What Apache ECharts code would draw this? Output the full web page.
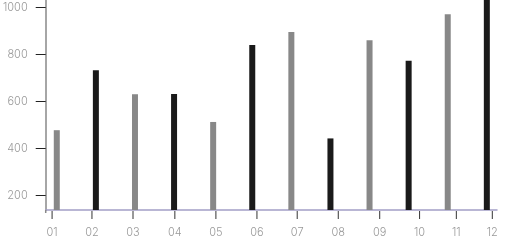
<!DOCTYPE html>
<html>
<head>
<meta charset="utf-8">
<script src="https://cdn.jsdelivr.net/npm/echarts@6/dist/echarts.min.js"></script>
<style>
html,body{margin:0;padding:0;background:#fff;}
#chart{width:508px;height:242px;}
</style>
</head>
<body>
<div id="chart"></div>
<script>
// Data
var categories = ['01','02','03','04','05','06','07','08','09','10','11','12'];
var values = [477, 732, 630, 631, 512, 840, 895, 442, 860, 772, 970, 1035];
// x tick marks (in bar-index units) and their labels
var tickValues = [-0.12, 0.9, 1.95, 3.02, 4.07, 5.12, 6.15, 7.2, 8.26, 9.28, 10.22, 11.14];
var tickLabels = ['01','02','03','04','05','06','07','08','09','10','11','12'];
var yTicks = [200, 400, 600, 800, 1000];
var yMin = 137.4, yMax = 1031;
var xMin = -0.283, xMax = 11.26;

var grayBar = '#888888', darkBar = '#1a1a1a';
var barData = values.map(function (v, i) {
  return { value: [i, v], itemStyle: { color: (i % 2 === 0) ? grayBar : darkBar } };
});
var tickData = tickValues.map(function (t, i) { return [t, yMin, tickLabels[i]]; });

var chart = echarts.init(document.getElementById('chart'), null, { renderer: 'canvas' });
var font = 'Inter';
chart.setOption({
  animation: false,
  grid: { left: 45, right: 11, top: 0, bottom: 32, containLabel: false },
  xAxis: {
    type: 'value',
    min: xMin,
    max: xMax,
    splitLine: { show: false },
    axisLine: { show: true, onZero: false, lineStyle: { color: '#a39fc6', width: 1.5 } },
    axisTick: { show: false },
    axisLabel: { show: false }
  },
  yAxis: {
    type: 'value',
    min: yMin,
    max: yMax,
    splitLine: { show: false },
    axisLine: { show: true, onZero: false, lineStyle: { color: '#888', width: 1.5 } },
    axisTick: { show: true, length: 10, customValues: yTicks, lineStyle: { color: '#222', width: 1 } },
    axisLabel: {
      show: true,
      customValues: yTicks,
      margin: 18,
      color: '#999',
      fontFamily: font,
      fontWeight: 300,
      fontSize: 11,
      formatter: function (v) { return String(Math.round(v)); }
    }
  },
  series: [{
    type: 'bar',
    data: barData,
    barWidth: 6,
    clip: true
  }, {
    type: 'custom',
    clip: false,
    silent: true,
    z: 10,
    data: tickData,
    encode: { x: 0, y: 1 },
    renderItem: function (params, api) {
      var p = api.coord([api.value(0), yMin]);
      var label = tickLabels[params.dataIndex];
      var children = [{
        type: 'line',
        shape: { x1: p[0], y1: p[1] + 1, x2: p[0], y2: p[1] + 9 },
        style: { stroke: '#333', lineWidth: 1 }
      }, {
        type: 'text',
        x: p[0],
        y: p[1] + 23,
        style: {
          text: label,
          fill: '#999',
          font: '300 11px ' + font,
          align: 'center',
          verticalAlign: 'middle'
        }
      }];
      if (params.dataIndex === 0) {
        var o = api.coord([xMin, yMin]);
        children.push({
          type: 'line',
          shape: { x1: o[0], y1: o[1], x2: o[0], y2: o[1] + 3 },
          style: { stroke: '#888', lineWidth: 1.5 }
        });
      }
      return { type: 'group', children: children };
    }
  }]
});
</script>
</body>
</html>
